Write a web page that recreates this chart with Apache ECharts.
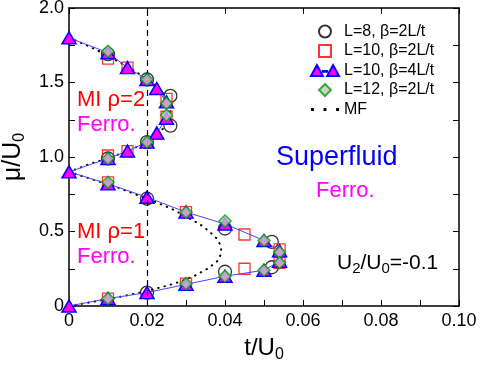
<!DOCTYPE html>
<html>
<head>
<meta charset="utf-8">
<script src="https://cdn.jsdelivr.net/npm/echarts@6/dist/echarts.min.js"></script>
<style>
html, body { margin: 0; padding: 0; background: #fff; }
#chart { width: 480px; height: 371px; }
</style>
</head>
<body>
<div id="chart"></div>
<script>
// points, [t/U0, mu/U0]
var circleL8 = [[0.01, 1.69], [0.02, 1.52], [0.026, 1.41], [0.026, 1.21], [0.02, 1.10], [0.01, 0.99],
  [0.02, 0.72], [0.04, 0.52], [0.052, 0.43], [0.052, 0.26], [0.04, 0.23], [0.02, 0.09]];
var squareL10 = [[0.01, 1.66], [0.015, 1.60], [0.025, 1.39], [0.025, 1.27], [0.015, 1.04], [0.01, 1.01],
  [0.01, 0.83], [0.03, 0.63], [0.045, 0.48], [0.054, 0.38], [0.054, 0.29], [0.045, 0.25],
  [0.03, 0.15], [0.01, 0.05]];
var triangleL10 = [[0, 0], [0.01, 0.05], [0.02, 0.09], [0.03, 0.145], [0.04, 0.20], [0.05, 0.24],
  [0.054, 0.30], [0.054, 0.37], [0.05, 0.44], [0.04, 0.55], [0.03, 0.63], [0.02, 0.73], [0.01, 0.82],
  [0, 0.90], [0.01, 0.99], [0.015, 1.04], [0.02, 1.10], [0.0225, 1.16], [0.025, 1.26], [0.025, 1.37],
  [0.0225, 1.46], [0.02, 1.52], [0.015, 1.60], [0.01, 1.70], [0, 1.80]];
var diamondL12 = [[0.01, 1.71], [0.02, 1.52], [0.025, 1.36], [0.025, 1.28], [0.02, 1.10], [0.01, 0.99],
  [0.01, 0.83], [0.03, 0.63], [0.04, 0.57], [0.05, 0.44], [0.054, 0.36], [0.054, 0.29], [0.05, 0.24],
  [0.04, 0.20], [0.03, 0.15], [0.01, 0.05]];
// mean-field lobe boundaries
var mfLower = [[0, 0], [0.011, 0.05], [0.02, 0.10], [0.027, 0.15], [0.032, 0.20], [0.0355, 0.25],
  [0.038, 0.30], [0.039, 0.35], [0.039, 0.40], [0.038, 0.45], [0.036, 0.50], [0.0335, 0.55],
  [0.030, 0.60], [0.0265, 0.65], [0.022, 0.70], [0.017, 0.75], [0.012, 0.80], [0.006, 0.85], [0, 0.90]];
var mfUpper = [[0.005, 0.95], [0.011, 1.0], [0.016, 1.05], [0.02, 1.10], [0.0225, 1.15], [0.0245, 1.20],
  [0.0255, 1.25], [0.026, 1.30], [0.0258, 1.35], [0.025, 1.40], [0.0235, 1.45], [0.021, 1.50],
  [0.0185, 1.55], [0.0155, 1.60], [0.012, 1.65], [0.0085, 1.70], [0.0045, 1.75], [0, 1.80]];
var xTicks = ['0', '0.02', '0.04', '0.06', '0.08', '0.10'];
var yTicks = ['0', '0.5', '1.0', '1.5', '2.0'];
var legendNames = ['L=8, β=2L/t', 'L=10, β=2L/t', 'L=10, β=4L/t', 'L=12, β=2L/t', 'MF'];

var FONT = 'Liberation Sans, Arial, Helvetica, sans-serif';
var chart = echarts.init(document.getElementById('chart'));

function frameAxis(extra) {
  return Object.assign({
    type: 'value',
    axisLine: { show: true, onZero: false, lineStyle: { color: '#000', width: 1.5 } },
    axisTick: { show: true, inside: true, length: 6, lineStyle: { color: '#000' } },
    splitLine: { show: false }
  }, extra);
}

chart.setOption({
  animation: false,
  textStyle: { fontFamily: FONT },
  grid: { left: 69, right: 21, top: 8, bottom: 65, containLabel: false, outerBoundsMode: 'none' },
  legend: {
    data: [
      { name: legendNames[0], icon: 'circle' },
      { name: legendNames[1], icon: 'path://M0,0L10,0L10,10L0,10Z' },
      { name: legendNames[2], icon: 'path://M0,10L5.5,0L11,10Z M11,5.5L15,5.5L15,6.2L11,6.2Z M15,10L20.5,0L26,10Z' },
      { name: legendNames[3], icon: 'path://M5,0L10,5L5,10L0,5Z' },
      { name: legendNames[4], icon: 'path://M0,0h1.6v1.6h-1.6Z M7,0h1.6v1.6h-1.6Z M14,0h1.6v1.6h-1.6Z' }
    ],
    orient: 'vertical',
    left: 305,
    top: 17,
    itemWidth: 28,
    itemHeight: 12,
    itemGap: 0.5,
    textStyle: { fontFamily: FONT, fontSize: 16, color: '#000', lineHeight: 19 }
  },
  xAxis: [
    frameAxis({
      min: 0, max: 0.1, interval: 0.02, position: 'bottom',
      minorTick: { show: true, splitNumber: 2, length: 6, lineStyle: { color: '#000' } },
      axisLabel: {
        fontSize: 18, color: '#000', margin: 6, fontFamily: FONT,
        formatter: function (v) { return xTicks[Math.round(v / 0.02)]; }
      },
      name: '{a|t/U}{b|0}',
      nameLocation: 'middle',
      nameGap: 27,
      nameTextStyle: {
        rich: {
          a: { fontSize: 24, fontFamily: FONT, color: '#000', lineHeight: 30 },
          b: { fontSize: 16, fontFamily: FONT, color: '#000', lineHeight: 12, verticalAlign: 'bottom' }
        }
      }
    }),
    frameAxis({ min: 0, max: 0.1, interval: 0.02, position: 'top', axisLabel: { show: false } })
  ],
  yAxis: [
    frameAxis({
      min: 0, max: 2, interval: 0.5, position: 'left',
      minorTick: { show: true, splitNumber: 2, length: 6, lineStyle: { color: '#000' } },
      axisLabel: {
        fontSize: 18, color: '#000', margin: 5, fontFamily: FONT,
        formatter: function (v) { return yTicks[Math.round(v / 0.5)]; }
      },
      name: '{a|μ/U}{b|0}',
      nameLocation: 'middle',
      nameGap: 33,
      nameRotate: 90,
      nameTextStyle: {
        rich: {
          a: { fontSize: 25, fontFamily: FONT, color: '#000', lineHeight: 30 },
          b: { fontSize: 16, fontFamily: FONT, color: '#000', lineHeight: 12, verticalAlign: 'bottom' }
        }
      }
    }),
    frameAxis({
      min: 0, max: 2, interval: 0.5, position: 'right', axisLabel: { show: false },
      minorTick: { show: true, splitNumber: 2, length: 6, lineStyle: { color: '#000' } }
    })
  ],
  series: [
    {
      name: 'MF',
      type: 'line',
      data: mfLower.concat(mfUpper),
      symbol: 'none',
      lineStyle: { color: '#000', width: 2, type: [0.5, 6], cap: 'round' },
      itemStyle: { color: '#000' },
      z: 1,
      markLine: {
        silent: true,
        symbol: 'none',
        label: { show: false },
        lineStyle: { color: '#000', width: 1.2, type: [6, 4] },
        data: [{ xAxis: 0.02 }]
      }
    },
    {
      name: 'L=8, β=2L/t',
      type: 'scatter',
      data: circleL8,
      symbol: 'circle',
      symbolSize: 13,
      itemStyle: { color: 'rgba(0,0,0,0)', borderColor: '#000', borderWidth: 1.3 },
      z: 2
    },
    {
      name: 'L=10, β=2L/t',
      type: 'scatter',
      data: squareL10,
      symbol: 'rect',
      symbolSize: 11,
      itemStyle: { color: 'rgba(0,0,0,0)', borderColor: '#ff0000', borderWidth: 1.3 },
      z: 3
    },
    {
      name: 'L=10, β=4L/t',
      type: 'line',
      data: triangleL10,
      symbol: 'triangle',
      symbolSize: [14, 12],
      showAllSymbol: true,
      lineStyle: { color: '#4646ff', width: 1 },
      itemStyle: { color: '#ff00ff', borderColor: '#0000ff', borderWidth: 1.5 },
      z: 4
    },
    {
      name: 'L=12, β=2L/t',
      type: 'scatter',
      data: diamondL12,
      symbol: 'diamond',
      symbolSize: 12,
      itemStyle: { color: '#c4c4c4', borderColor: '#00a000', borderWidth: 1.5 },
      z: 5
    }
  ],
  graphic: [
    { type: 'text', x: 77, y: 100, style: { text: 'MI ρ=2', fill: '#ff0000', font: '22px ' + FONT, verticalAlign: 'middle' } },
    { type: 'text', x: 77, y: 125, style: { text: 'Ferro.', fill: '#ff00ff', font: '22px ' + FONT, verticalAlign: 'middle' } },
    { type: 'text', x: 77, y: 232, style: { text: 'MI ρ=1', fill: '#ff0000', font: '22px ' + FONT, verticalAlign: 'middle' } },
    { type: 'text', x: 77, y: 257, style: { text: 'Ferro.', fill: '#ff00ff', font: '22px ' + FONT, verticalAlign: 'middle' } },
    { type: 'text', x: 276, y: 158, style: { text: 'Superfluid', fill: '#0000ff', font: '27px ' + FONT, verticalAlign: 'middle' } },
    { type: 'text', x: 316, y: 191, style: { text: 'Ferro.', fill: '#ff00ff', font: '22px ' + FONT, verticalAlign: 'middle' } },
    {
      type: 'text', x: 337, y: 263,
      style: {
        text: '{a|U}{b|2}{a|/U}{b|0}{a|=-0.1}',
        verticalAlign: 'middle',
        rich: {
          a: { fontSize: 21, fontFamily: FONT, fill: '#000', color: '#000', lineHeight: 26 },
          b: { fontSize: 15, fontFamily: FONT, fill: '#000', color: '#000', lineHeight: 10, verticalAlign: 'bottom' }
        }
      }
    }
  ]
});
</script>
</body>
</html>
